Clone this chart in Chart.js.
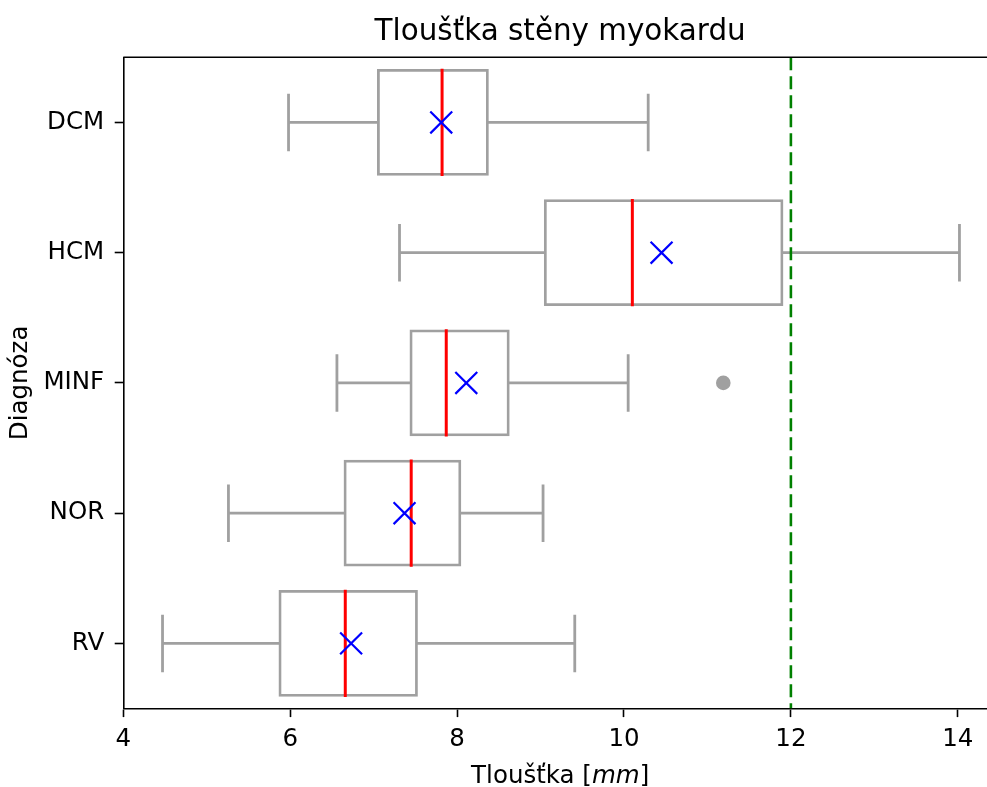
<!DOCTYPE html>
<html>
<head>
<meta charset="utf-8">
<script src="https://cdn.jsdelivr.net/npm/chart.js@4.4.0/dist/chart.umd.min.js"></script>
<style>
  html, body { margin: 0; padding: 0; background: #fff; overflow: hidden; }
  canvas { display: block; }
</style>
</head>
<body>
<canvas id="chart" width="987" height="787"></canvas>
<script>
// ===== data =====
const categories = ["DCM", "HCM", "MINF", "NOR", "RV"];
const whiskerLow = [5.98, 7.31, 6.56, 5.26, 4.47];
const q1 = [7.04, 9.04, 7.43, 6.64, 5.86];
const median = [7.82, 10.10, 7.87, 7.45, 6.66];
const q3 = [8.38, 11.91, 8.63, 8.05, 7.53];
const whiskerHigh = [10.29, 14.02, 10.05, 9.03, 9.41];
const means = [7.81, 10.45, 8.11, 7.37, 6.73];
const outlierCats = ["MINF"];
const outlierValues = [11.19];
const threshold = 12;
const xTicks = [4, 6, 8, 10, 12, 14];

const titleText = "Tloušťka stěny myokardu";
const yLabel = "Diagnóza";

// ===== styles =====
const GRAY = "#a0a0a0";
const FONT = "'DejaVu Sans', sans-serif";
const BOX_HALF = 0.4;
const CAP_HALF = 0.21;

Chart.defaults.font.family = FONT;
Chart.defaults.color = "#000";

const pos = (cat) => categories.indexOf(cat) + 1;
const gap = () => ({ x: null, y: null });

// build marks from the arrays
const boxData = categories.map((c, i) => ({ y: i + 1, x: [q1[i], q3[i]] }));
const whiskerData = [];
const medianData = [];
categories.forEach((c, i) => {
    const y = i + 1;
    whiskerData.push({ x: whiskerLow[i], y }, { x: q1[i], y }, gap());
    whiskerData.push({ x: q3[i], y }, { x: whiskerHigh[i], y }, gap());
    whiskerData.push({ x: whiskerLow[i], y: y - CAP_HALF }, { x: whiskerLow[i], y: y + CAP_HALF }, gap());
    whiskerData.push({ x: whiskerHigh[i], y: y - CAP_HALF }, { x: whiskerHigh[i], y: y + CAP_HALF }, gap());
    medianData.push({ x: median[i], y: y - BOX_HALF }, { x: median[i], y: y + BOX_HALF }, gap());
});
const meanData = categories.map((c, i) => ({ x: means[i], y: i + 1 }));
const outlierData = outlierCats.map((c, i) => ({ x: outlierValues[i], y: pos(c) }));
const thresholdData = [{ x: threshold, y: 0.5 }, { x: threshold, y: categories.length + 0.5 }];

// title, x label with italic unit, top spine
const decor = {
    id: "decor",
    afterDraw(chart) {
        const { ctx, chartArea: a } = chart;
        const xs = chart.scales.x;
        const cx = (a.left + xs.getPixelForValue(14.47)) / 2;
        ctx.save();
        ctx.strokeStyle = "#000";
        ctx.lineWidth = 1.6;
        ctx.beginPath();
        ctx.moveTo(a.left, a.top);
        ctx.lineTo(a.right, a.top);
        ctx.stroke();

        ctx.fillStyle = "#000";
        ctx.textBaseline = "alphabetic";
        ctx.textAlign = "center";
        ctx.font = "29.4px " + FONT;
        ctx.fillText(titleText, cx, 40);

        const parts = [["Tloušťka [", ""], ["mm", "italic "], ["]", ""]];
        let total = 0;
        parts.forEach(p => { ctx.font = p[1] + "24.5px " + FONT; p.push(ctx.measureText(p[0]).width); total += p[2]; });
        let x = cx - total / 2;
        ctx.textAlign = "left";
        parts.forEach(p => { ctx.font = p[1] + "24.5px " + FONT; ctx.fillText(p[0], x, 783); x += p[2]; });
        ctx.restore();
    }
};

const ctx = document.getElementById("chart").getContext("2d");
new Chart(ctx, {
    type: "bar",
    data: {
        datasets: [
            { type: "scatter", data: meanData, pointStyle: "crossRot", pointRadius: 15.5,
              pointBorderColor: "#0000ff", pointBorderWidth: 2.2, pointBackgroundColor: "#0000ff" },
            { type: "scatter", data: outlierData, pointStyle: "circle", pointRadius: 7.3,
              pointBackgroundColor: GRAY, pointBorderWidth: 0 },
            { type: "line", data: thresholdData, borderColor: "#008000", borderWidth: 2.6,
              borderDash: [13, 6], pointRadius: 0, fill: false },
            { type: "line", data: medianData, borderColor: "#ff0000", borderWidth: 3,
              borderCapStyle: "square", pointRadius: 0, fill: false, spanGaps: false },
            { type: "line", data: whiskerData, borderColor: GRAY, borderWidth: 2.8,
              borderCapStyle: "square", pointRadius: 0, fill: false, spanGaps: false },
            { type: "bar", data: boxData, backgroundColor: "rgba(255,255,255,0)", borderColor: GRAY,
              borderWidth: 2.8, borderSkipped: false, barPercentage: 0.82, categoryPercentage: 1 }
        ]
    },
    options: {
        responsive: false,
        animation: false,
        events: [],
        indexAxis: "y",
        layout: { autoPadding: false, padding: { top: 57.3, left: 0, right: 0, bottom: 0 } },
        plugins: { legend: { display: false }, tooltip: { enabled: false }, title: { display: false } },
        scales: {
            x: {
                type: "linear", position: "bottom", min: 4, max: 14.35, offset: false,
                afterBuildTicks: s => { s.ticks = xTicks.map(v => ({ value: v })); },
                afterFit: s => { s.height = 787 - 708.5; s.paddingLeft = 0; s.paddingRight = 0; },
                grid: { display: true, drawOnChartArea: false, drawTicks: true, tickLength: 8.6,
                        tickColor: "#000", tickWidth: 1.6, offset: false },
                border: { display: true, color: "#000", width: 1.6 },
                ticks: { color: "#000", font: { size: 24.5 }, padding: 8, maxRotation: 0, autoSkip: false }
            },
            y: {
                type: "linear", position: "left", min: 0.5, max: categories.length + 0.5,
                reverse: true, offset: false,
                afterBuildTicks: s => { s.ticks = categories.map((c, i) => ({ value: i + 1 })); },
                afterFit: s => { s.width = 123.3; s.paddingTop = 0; s.paddingBottom = 0; },
                grid: { display: true, drawOnChartArea: false, drawTicks: true, tickLength: 8.6,
                        tickColor: "#000", tickWidth: 1.6, offset: false },
                border: { display: true, color: "#000", width: 1.6 },
                ticks: { color: "#000", font: { size: 24.5 }, padding: 10.5, autoSkip: false,
                         callback: v => categories[v - 1] },
                title: { display: true, text: yLabel, color: "#000", font: { size: 24.5 },
                         padding: { top: 6.3, bottom: 0 } }
            }
        }
    },
    plugins: [decor]
});
</script>
</body>
</html>
